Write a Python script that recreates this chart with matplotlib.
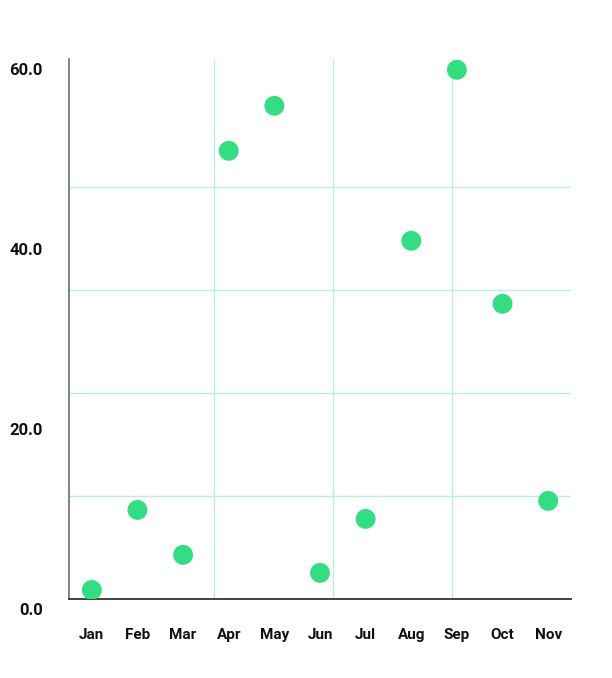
import numpy as np
import matplotlib.pyplot as plt
from matplotlib.transforms import ScaledTranslation

plt.rcParams['font.family'] = ['Roboto', 'DejaVu Sans']

months = ['Jan', 'Feb', 'Mar', 'Apr', 'May', 'Jun', 'Jul', 'Aug', 'Sep', 'Oct', 'Nov']
values = [1.0, 9.9, 4.9, 49.8, 54.8, 2.9, 8.9, 39.8, 58.8, 32.8, 10.9]
y_ticks = [0, 20, 40, 60]

dot_color = '#33dd82'
grid_color = '#b8f2d2'

fig = plt.figure(figsize=(6.12, 6.78), dpi=100)
ax = fig.add_axes([69 / 612, 79 / 678, 502 / 612, 540 / 678])

x = np.arange(len(months))
ax.scatter(x, values, s=205, c=dot_color, edgecolors='none', zorder=3)

ax.set_xlim(-0.5, len(months) - 0.5)
ax.set_ylim(0, 60)

## grid lines (not on the tick positions in the original)
for gx in [2.67, 5.28, 7.90]:
	ax.axvline(gx, color=grid_color, lw=1, zorder=1)
for gy in [11.44, 22.89, 34.33, 45.78]:
	ax.axhline(gy, color=grid_color, lw=1, zorder=1)

ax.set_xticks(x)
ax.set_xticklabels(months, fontsize=11, fontweight='bold', color='#111111')
ax.set_yticks(y_ticks)
ax.set_yticklabels(['%.1f' % v for v in y_ticks], fontsize=12, fontweight='bold', color='#111111')
ax.tick_params(axis='x', length=0, pad=21)
ax.tick_params(axis='y', length=0, pad=19)

offset = ScaledTranslation(0, -11.5 / 100, fig.dpi_scale_trans)
for lbl in ax.get_yticklabels():
	lbl.set_verticalalignment('center')
	lbl.set_transform(lbl.get_transform() + offset)

for side in ['top', 'right']:
	ax.spines[side].set_visible(False)
ax.spines['left'].set_color('#777777')
ax.spines['left'].set_linewidth(1.3)
ax.spines['bottom'].set_color('#333333')
ax.spines['bottom'].set_linewidth(1.3)

fig.savefig('out.png', dpi=100)
